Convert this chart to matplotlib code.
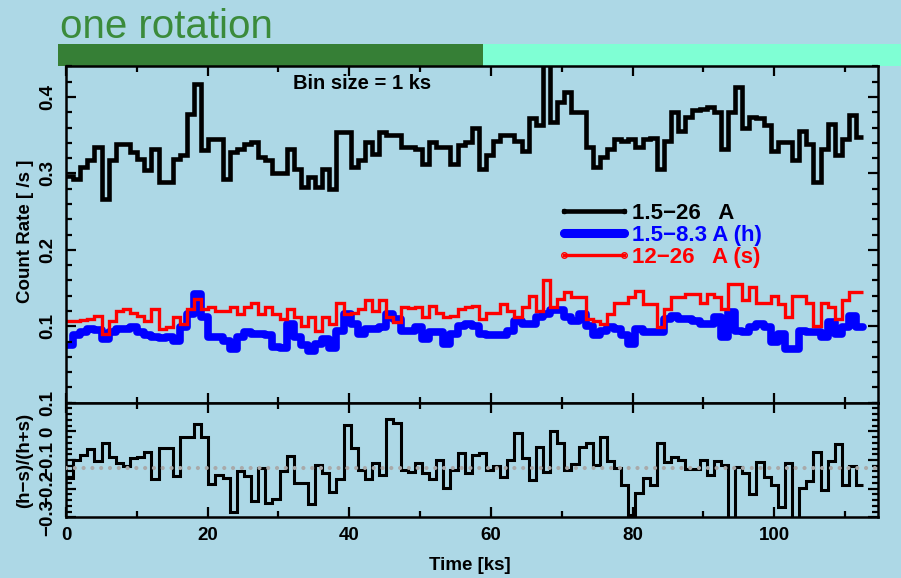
import matplotlib
matplotlib.use('Agg')
import matplotlib.pyplot as plt
import numpy as np
from matplotlib.lines import Line2D
from matplotlib.ticker import MultipleLocator, FixedLocator

plt.rcParams['font.family'] = ['Liberation Sans', 'DejaVu Sans']
plt.rcParams['font.weight'] = 'bold'

# light curve, 1 ks bins
bin_size = 1.005
rate_all = [0.297, 0.293, 0.309, 0.317, 0.335, 0.267, 0.317, 0.339, 0.339, 0.328,
            0.319, 0.304, 0.332, 0.289, 0.289, 0.319, 0.324, 0.378, 0.417, 0.331,
            0.345, 0.345, 0.293, 0.328, 0.332, 0.339, 0.341, 0.321, 0.317, 0.300,
            0.300, 0.332, 0.306, 0.282, 0.295, 0.282, 0.306, 0.280, 0.354, 0.354,
            0.308, 0.317, 0.341, 0.326, 0.354, 0.350, 0.350, 0.334, 0.334, 0.332,
            0.313, 0.341, 0.334, 0.334, 0.313, 0.337, 0.341, 0.359, 0.306, 0.324,
            0.343, 0.350, 0.350, 0.343, 0.330, 0.372, 0.363, 0.445, 0.367, 0.393,
            0.407, 0.380, 0.380, 0.334, 0.308, 0.321, 0.332, 0.345, 0.343, 0.345,
            0.334, 0.345, 0.347, 0.306, 0.343, 0.380, 0.356, 0.374, 0.383, 0.385,
            0.387, 0.380, 0.332, 0.380, 0.413, 0.359, 0.374, 0.372, 0.363, 0.330,
            0.341, 0.341, 0.317, 0.356, 0.339, 0.289, 0.332, 0.365, 0.324, 0.345,
            0.376, 0.348]
rate_h = [0.075, 0.088, 0.092, 0.096, 0.095, 0.084, 0.092, 0.096, 0.096, 0.099,
          0.093, 0.089, 0.086, 0.085, 0.086, 0.081, 0.099, 0.116, 0.142, 0.112,
          0.086, 0.086, 0.081, 0.070, 0.086, 0.092, 0.090, 0.090, 0.088, 0.073,
          0.072, 0.103, 0.086, 0.075, 0.068, 0.077, 0.083, 0.072, 0.094, 0.116,
          0.103, 0.090, 0.096, 0.096, 0.099, 0.116, 0.110, 0.094, 0.094, 0.099,
          0.083, 0.092, 0.092, 0.077, 0.090, 0.101, 0.103, 0.101, 0.090, 0.088,
          0.088, 0.088, 0.094, 0.107, 0.103, 0.103, 0.112, 0.116, 0.121, 0.121,
          0.112, 0.107, 0.116, 0.101, 0.088, 0.094, 0.099, 0.096, 0.088, 0.077,
          0.096, 0.092, 0.092, 0.092, 0.110, 0.114, 0.110, 0.109, 0.107, 0.103,
          0.103, 0.112, 0.086, 0.119, 0.094, 0.092, 0.099, 0.103, 0.099, 0.079,
          0.090, 0.070, 0.070, 0.094, 0.092, 0.092, 0.086, 0.105, 0.090, 0.099,
          0.114, 0.099]
rate_s = [0.107, 0.107, 0.108, 0.109, 0.114, 0.090, 0.107, 0.120, 0.123, 0.118,
          0.114, 0.107, 0.123, 0.097, 0.099, 0.112, 0.103, 0.123, 0.136, 0.123,
          0.125, 0.120, 0.120, 0.125, 0.116, 0.125, 0.131, 0.116, 0.125, 0.116,
          0.109, 0.123, 0.112, 0.101, 0.112, 0.094, 0.112, 0.103, 0.131, 0.116,
          0.118, 0.123, 0.134, 0.120, 0.134, 0.112, 0.105, 0.125, 0.124, 0.125,
          0.112, 0.127, 0.118, 0.112, 0.114, 0.123, 0.125, 0.127, 0.109, 0.118,
          0.118, 0.129, 0.120, 0.112, 0.125, 0.140, 0.120, 0.160, 0.125, 0.136,
          0.145, 0.138, 0.138, 0.109, 0.107, 0.103, 0.116, 0.131, 0.131, 0.138,
          0.146, 0.129, 0.129, 0.099, 0.123, 0.138, 0.138, 0.142, 0.142, 0.131,
          0.142, 0.138, 0.123, 0.156, 0.156, 0.134, 0.151, 0.131, 0.131, 0.140,
          0.129, 0.112, 0.140, 0.140, 0.131, 0.101, 0.131, 0.125, 0.109, 0.134,
          0.145, 0.145]
# hardness ratio (h-s)/(h+s)
ratio = [-0.164, -0.100, -0.083, -0.063, -0.102, -0.040, -0.088, -0.109, -0.121, -0.094,
         -0.088, -0.071, -0.167, -0.057, -0.057, -0.156, -0.019, -0.019, 0.024, -0.019,
         -0.184, -0.152, -0.164, -0.280, -0.137, -0.156, -0.243, -0.129, -0.251, -0.237,
         -0.137, -0.086, -0.181, -0.181, -0.255, -0.117, -0.144, -0.210, -0.167, 0.022,
         -0.059, -0.135, -0.167, -0.109, -0.152, 0.042, 0.030, -0.135, -0.141, -0.109,
         -0.147, -0.167, -0.100, -0.199, -0.135, -0.077, -0.147, -0.083, -0.074, -0.135,
         -0.121, -0.160, -0.100, -0.007, -0.094, -0.170, -0.056, -0.141, 0.002, -0.042,
         -0.135, -0.114, -0.053, -0.042, -0.117, -0.019, -0.102, -0.129, -0.187, -0.292,
         -0.216, -0.164, -0.187, -0.040, -0.106, -0.091, -0.100, -0.133, -0.133, -0.100,
         -0.152, -0.102, -0.117, -0.320, -0.126, -0.147, -0.219, -0.106, -0.158, -0.187,
         -0.265, -0.109, -0.320, -0.199, -0.172, -0.071, -0.205, -0.102, -0.044, -0.187,
         -0.121, -0.187]
ratio_mean = -0.127
rotation_done = 58.9   # ks covered of one rotation

labels = ['1.5\u221226   A', '1.5\u22128.3 A (h)', '12\u221226   A (s)']
hr_ticks = [-0.3, -0.2, -0.1, 0.0, 0.1]
hr_ticklabels = ['\u22120.3', '\u22120.2', '\u22120.1', '0', '0.1']

t_edges = np.arange(len(rate_all) + 1) * bin_size

bg = '#add8e6'
W, H = 901, 578
fig = plt.figure(figsize=(W / 100, H / 100), dpi=100, facecolor=bg)

def box(x0, y0, x1, y1):
    return [x0 / W, 1 - y1 / H, (x1 - x0) / W, (y1 - y0) / H]

ax_bar = fig.add_axes(box(58, 44, 901, 66))
ax1 = fig.add_axes(box(66, 66.5, 877.7, 402.7))
ax2 = fig.add_axes(box(66, 402.7, 877.7, 517.3))

# rotation bar
bx0, bx1 = -1.13, 117.9
ax_bar.barh(0, rotation_done - bx0, left=bx0, height=1, color='#367f36')
ax_bar.barh(0, bx1 - rotation_done, left=rotation_done, height=1, color='#7fffd4')
ax_bar.set_xlim(bx0, bx1)
ax_bar.set_ylim(-0.5, 0.5)
ax_bar.set_axis_off()

# light curves
ax1.stairs(rate_all, t_edges, baseline=None, color='black', lw=3.3)
ax1.stairs(rate_h, t_edges, baseline=None, color='blue', lw=5.5,
           joinstyle='round', capstyle='round')
ax1.stairs(rate_s, t_edges, baseline=None, color='red', lw=2.4)
ax1.set_ylim(0, 0.44)
ax1.yaxis.set_major_locator(FixedLocator([0.1, 0.2, 0.3, 0.4]))
ax1.yaxis.set_minor_locator(MultipleLocator(0.02))
ax1.tick_params(labelbottom=False)

handles = [Line2D([], [], color='black', lw=3.3, marker='o', ms=3),
           Line2D([], [], color='blue', lw=6.5, marker='o', ms=5,
                  solid_capstyle='round'),
           Line2D([], [], color='red', lw=2.4, marker='o', ms=4, mfc='none')]
ax1.legend(handles, labels, loc='upper left', bbox_to_anchor=(0.605, 0.595),
           frameon=False, fontsize=16, handlelength=3.3, handletextpad=0.05,
           labelspacing=0.05, borderpad=0, borderaxespad=0, numpoints=2,
           labelcolor=['black', 'blue', 'red'])
ax1.text(0.365, 0.95, 'Bin size = 1 ks', transform=ax1.transAxes,
         ha='center', va='center', fontsize=14.5)

# hardness ratio
ax2.stairs(ratio, t_edges, baseline=None, color='black', lw=2.2)
ax2.axhline(ratio_mean, color='#a9a9a9', lw=3, ls=(0, (0.01, 2.1)),
            dash_capstyle='round', zorder=5)
ax2.set_ylim(-0.3, 0.1)
ax2.yaxis.set_major_locator(FixedLocator(hr_ticks))
ax2.set_yticklabels(hr_ticklabels)
ax2.yaxis.set_minor_locator(MultipleLocator(0.02))

for ax in (ax1, ax2):
    ax.set_facecolor(bg)
    ax.set_xlim(0, 114.6)
    ax.xaxis.set_major_locator(MultipleLocator(20))
    ax.xaxis.set_minor_locator(MultipleLocator(10))
    ax.tick_params(which='both', direction='in', top=True, right=True,
                   width=1.6, labelsize=13.5, pad=7)
    ax.tick_params(which='major', length=7)
    ax.tick_params(which='minor', length=4)
    ax.tick_params(axis='y', labelrotation=90)
    for lab in ax.get_yticklabels():
        lab.set_va('center')
    for sp in ax.spines.values():
        sp.set_linewidth(1.8)

fig.text(60 / W, 1 - 38 / H, 'one rotation', color='#3b8b3b', fontsize=29,
         fontweight='normal', family=['Liberation Sans Narrow', 'Liberation Sans'],
         va='baseline', ha='left')
fig.text(25 / W, 1 - 231 / H, 'Count Rate [ /s ]', rotation=90,
         ha='center', va='center', fontsize=13.5)
fig.text(25 / W, 1 - 460 / H, '(h\u2212s)/(h+s)', rotation=90,
         ha='center', va='center', fontsize=13.5)
fig.text(470 / W, 1 - 566 / H, 'Time [ks]', ha='center', va='center', fontsize=13.5)

fig.savefig('out.png', dpi=100, facecolor=bg)
